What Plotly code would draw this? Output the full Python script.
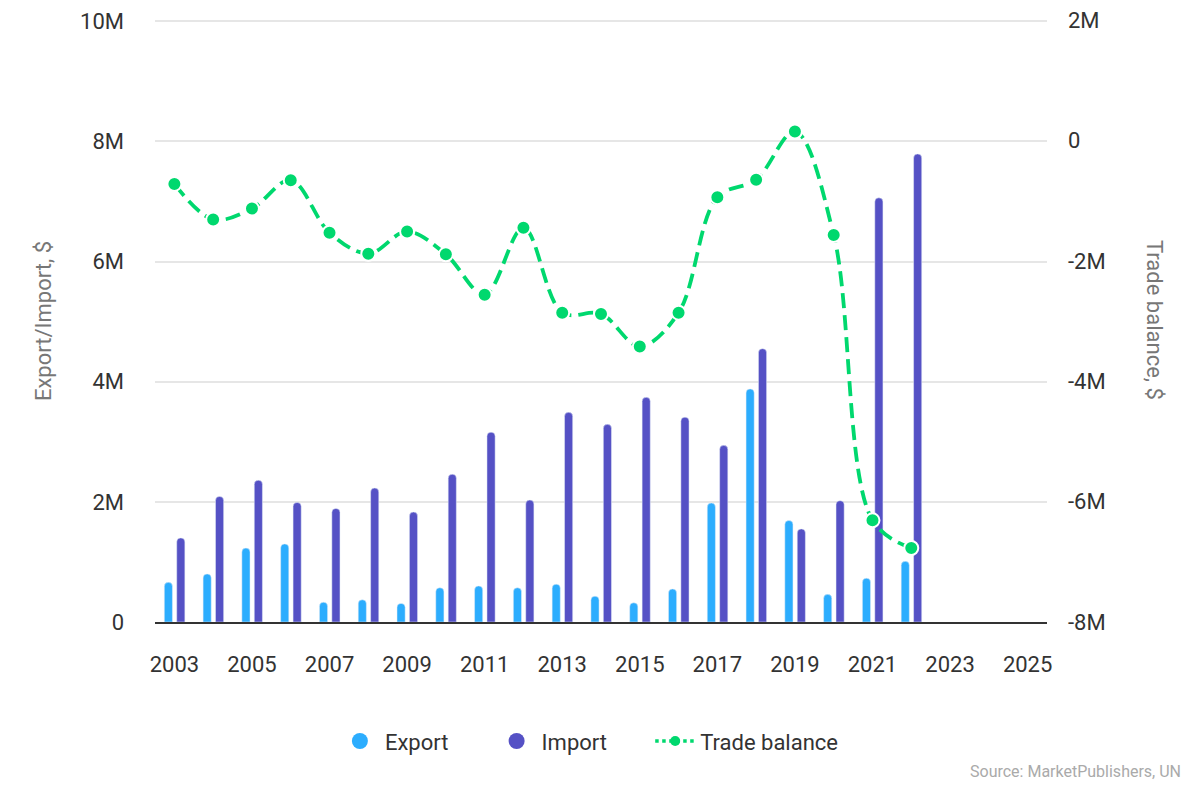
import plotly.graph_objects as go

years = list(range(2003, 2023))
export = [0.66, 0.80, 1.23, 1.30, 0.33, 0.37, 0.31, 0.57, 0.60, 0.57,
          0.63, 0.43, 0.32, 0.55, 1.98, 3.88, 1.69, 0.46, 0.73, 1.01]
imports = [1.40, 2.09, 2.36, 1.99, 1.89, 2.23, 1.83, 2.46, 3.16, 2.03,
           3.49, 3.29, 3.74, 3.41, 2.94, 4.55, 1.55, 2.02, 7.06, 7.79]
balance = [-0.72, -1.31, -1.13, -0.66, -1.53, -1.88, -1.51, -1.89, -2.56, -1.45,
           -2.86, -2.88, -3.42, -2.86, -0.94, -0.65, 0.15, -1.57, -6.31, -6.77]

export = [v * 1e6 for v in export]
imports = [v * 1e6 for v in imports]
balance = [v * 1e6 for v in balance]

left_ticks = [0, 2e6, 4e6, 6e6, 8e6, 10e6]
left_text = ["0", "2M", "4M", "6M", "8M", "10M"]
right_ticks = [-8e6, -6e6, -4e6, -2e6, 0, 2e6]
right_text = ["-8M", "-6M", "-4M", "-2M", "0", "2M"]
x_ticks = list(range(2003, 2026, 2))

c_exp = "#2CADFE"
c_imp = "#5551C5"
c_bal = "#00D86E"

fig = go.Figure()

fig.add_trace(go.Bar(
    x=years, y=export, name="Export", marker_color=c_exp,
    width=0.21, offset=-0.26, showlegend=False, marker_cornerradius=4,
))
fig.add_trace(go.Bar(
    x=years, y=imports, name="Import", marker_color=c_imp,
    width=0.21, offset=0.06, showlegend=False, marker_cornerradius=4,
))
fig.add_trace(go.Scatter(
    x=years, y=balance, name="Trade balance", yaxis="y2",
    mode="lines+markers",
    line=dict(color=c_bal, width=3.8, dash="15px,7px", shape="spline", smoothing=1.0),
    marker=dict(size=14, color=c_bal, line=dict(color="white", width=2)),
    showlegend=False,
))

# legend entries (circles like the original); nbsp padding spaces the items out
pad = "\u00a0" * 7
fig.add_trace(go.Scatter(x=[None], y=[None], mode="markers", name="Export" + pad,
                         marker=dict(size=24, color=c_exp)))
fig.add_trace(go.Scatter(x=[None], y=[None], mode="markers", name="Import" + pad,
                         marker=dict(size=24, color=c_imp)))
fig.add_trace(go.Scatter(x=[None], y=[None], mode="lines+markers", name="Trade balance",
                         line=dict(color=c_bal, width=3.5, dash="dot"),
                         marker=dict(size=10, color=c_bal)))

# page has an 8px body margin, so the figure box is shifted by 8px
L, T, R, B = 147, 12, 161, 186

fig.update_layout(
    width=1200, height=800,
    margin=dict(l=L, r=R, t=T, b=B, autoexpand=False),
    plot_bgcolor="white", paper_bgcolor="white",
    font=dict(family="Roboto", size=22, color="#333333"),
    barmode="overlay",
    xaxis=dict(
        range=[2002.5, 2025.5], tickvals=x_ticks, showgrid=False,
        showline=True, linecolor="#333333", linewidth=2,
        ticks="", ticklabelstandoff=22, zeroline=False, automargin=False,
        ticklabeloverflow="allow",
    ),
    yaxis=dict(
        range=[0, 10.02e6], tickvals=left_ticks, ticktext=left_text,
        showgrid=True, gridcolor="#E6E6E6", gridwidth=1.5, zeroline=False,
        ticklabelstandoff=30, automargin=False, ticklabeloverflow="allow",
        title=dict(text="Export/Import, $", font=dict(size=22, color="#777777"), standoff=22),
    ),
    yaxis2=dict(
        range=[-8e6, 2.004e6], tickvals=right_ticks, ticktext=right_text,
        overlaying="y", side="right", showgrid=False, zeroline=False,
        ticklabelstandoff=20, automargin=False, ticklabeloverflow="allow",
    ),
    legend=dict(
        orientation="h", x=0.487, xanchor="center", y=-0.198, yanchor="middle",
        font=dict(size=22, color="#333333"), itemwidth=40,
    ),
)

plot_w = 1200 - L - R
plot_h = 800 - T - B
bottom = 800 - B
fig.add_annotation(text="Trade balance, $", textangle=90,
                   x=(1147 - L) / plot_w, xanchor="center", y=(bottom - 312) / plot_h,
                   xref="paper", yref="paper", showarrow=False,
                   font=dict(size=22, color="#777777"))
fig.add_annotation(text="Source: MarketPublishers, UN",
                   x=(1175 - L) / plot_w, xanchor="right",
                   y=(bottom - 775) / plot_h, yref="paper", xref="paper",
                   showarrow=False, font=dict(size=16, color="#AAAAAA"))

fig.write_html("out.html")
